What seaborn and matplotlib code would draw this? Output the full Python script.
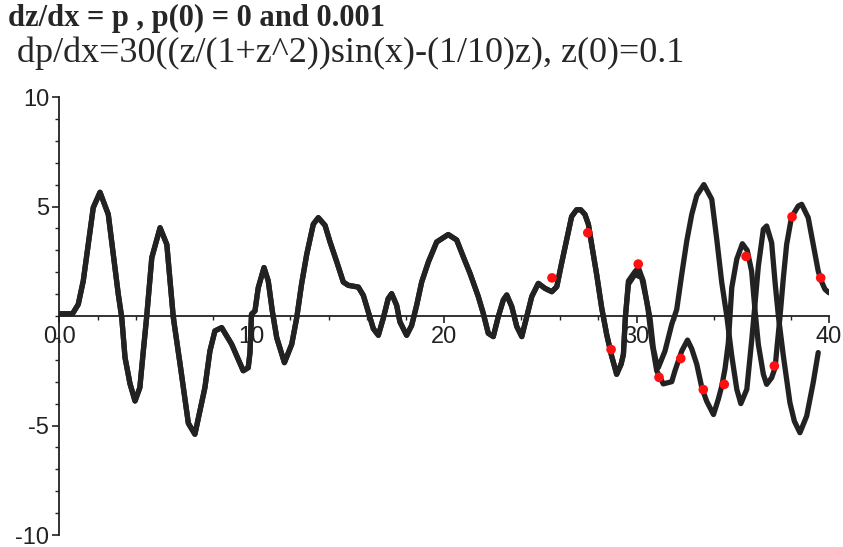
import numpy as np
import pandas as pd
import matplotlib
matplotlib.use("Agg")
import matplotlib.pyplot as plt
from matplotlib.ticker import MultipleLocator, FixedLocator
import seaborn as sns

# values
# both solutions run together up to x ~ 29.4
x_common = [0, 0.7, 1.0, 1.26, 1.52, 1.78, 2.13, 2.56, 2.82, 3.08, 3.26, 3.43, 3.69, 3.95,
            4.2, 4.38, 4.55, 4.82, 5.25, 5.6, 5.77, 5.94, 6.29, 6.72, 7.06, 7.58, 7.84, 8.1,
            8.45, 8.97, 9.57, 9.83, 9.92, 10.0, 10.18, 10.35, 10.65, 10.87, 11.08, 11.31,
            11.71, 12.09, 12.35, 12.6, 12.87, 13.21, 13.47, 13.82, 14.08, 14.43, 14.77,
            15.03, 15.55, 15.81, 16.07, 16.33, 16.59, 16.84, 17.1, 17.28, 17.54, 17.71,
            18.06, 18.32, 18.58, 18.84, 19.19, 19.62, 20.22, 20.66, 21.0, 21.35, 21.78,
            22.04, 22.3, 22.56, 22.82, 23.08, 23.26, 23.52, 23.78, 24.04, 24.3, 24.56,
            24.9, 25.25, 25.6, 25.86, 26.11, 26.37, 26.63, 26.89, 27.1, 27.32, 27.5,
            27.67, 27.93, 28.19, 28.45, 28.7, 28.97, 29.2, 29.32, 29.42]
z_common = [0.1, 0.1, 0.53, 1.6, 3.27, 4.95, 5.65, 4.64, 2.8, 0.99, -0.08, -1.9, -3.1, -3.88,
            -3.27, -1.6, -0.08, 2.66, 4.03, 3.27, 1.6, -0.08, -2.2, -4.9, -5.4, -3.27, -1.6,
            -0.68, -0.53, -1.29, -2.5, -2.36, -1.68, 0.08, 0.23, 1.29, 2.21, 1.6, 0.23, -0.99,
            -2.13, -1.29, -0.08, 1.45, 2.82, 4.19, 4.49, 4.14, 3.38, 2.47, 1.55,
            1.4, 1.32, 0.94, 0.18, -0.58, -0.88, -0.12, 0.79, 1.02, 0.49, -0.27,
            -0.88, -0.43, 0.49, 1.55, 2.47, 3.38, 3.72, 3.47, 2.71, 1.95, 0.89,
            0.12, -0.79, -0.94, -0.03, 0.73, 0.96, 0.43, -0.48, -0.94, -0.03, 0.89,
            1.49, 1.26, 1.11, 1.34, 2.41, 3.47, 4.54, 4.85, 4.85, 4.64, 4.19,
            3.27, 1.9, 0.38, -0.84, -1.8, -2.66, -2.2, -1.75, -0.08]

# p(0) = 0
x_tail_a = [29.58, 29.92, 30.27, 30.53, 30.7, 30.87, 31.05, 31.13, 31.48, 31.83, 32.09,
            32.35, 32.61, 32.87, 33.13, 33.5, 33.91, 34.17, 34.43, 34.69, 34.95, 35.21,
            35.42, 35.73, 35.99, 36.1, 36.33, 36.59, 36.76, 37.02, 37.2, 37.37, 37.63,
            37.97, 38.2, 38.49, 38.84, 39.18, 39.44]
z_tail_a = [1.45, 1.9, 1.75, 0.68, -0.08, -1.45, -2.2, -2.36, -1.6, -0.38, 0.3,
            1.9, 3.42, 4.64, 5.5, 6.0, 5.33, 3.5, 1.52, 0.0, -1.83, -3.35,
            -4.0, -3.35, -1.06, 0.0, 2.28, 3.96, 4.11, 3.35, 1.52, 0.0, -1.83,
            -3.96, -4.8, -5.33, -4.57, -3.04, -1.67]

# p(0) = 0.001
x_tail_b = [29.58, 29.9, 30.1, 30.35, 30.6, 30.8, 31.05, 31.39, 31.83, 32.0, 32.35, 32.65,
            32.87, 33.13, 33.4, 33.65, 34.0, 34.25, 34.43, 34.6, 34.77, 34.95, 35.21,
            35.5, 35.75, 35.98, 36.16, 36.33, 36.59, 36.76, 37.02, 37.2, 37.28, 37.45,
            37.63, 37.8, 38.05, 38.4, 38.58, 38.92, 39.18, 39.44, 39.6, 39.79, 40.0]
z_tail_b = [1.6, 2.0, 2.2, 1.6, 0.3, -1.2, -2.5, -3.1, -3.0, -2.5, -1.6, -1.1,
            -1.5, -2.2, -3.3, -3.9, -4.5, -3.8, -3.2, -2.4, -1.22, 1.3, 2.6,
            3.3, 3.0, 2.05, 0.23, -1.3, -2.66, -3.12, -2.82, -2.36, -1.6, -0.08,
            1.75, 3.27, 4.5, 5.02, 5.1, 4.49, 3.27, 2.05, 1.6, 1.22, 1.06]

# red marks
x_dots = [25.61, 27.47, 28.68, 30.09, 31.17, 32.3, 33.47, 34.56, 35.69, 37.16, 38.08, 39.57]
z_dots = [1.74, 3.8, -1.53, 2.37, -2.8, -1.94, -3.36, -3.12, 2.72, -2.28, 4.53, 1.74]

df = pd.concat([
    pd.DataFrame({"x": x_common + x_tail_a, "z": z_common + z_tail_a, "curve": "p0=0"}),
    pd.DataFrame({"x": x_common + x_tail_b, "z": z_common + z_tail_b, "curve": "p0=0.001"}),
])
dots = pd.DataFrame({"x": x_dots, "z": z_dots})

sns.set_style("ticks")
plt.rcParams["font.family"] = ["Liberation Sans", "DejaVu Sans"]

fig = plt.figure(figsize=(8.43, 5.47), dpi=100)
ax = fig.add_axes([59 / 843, 1 - 535 / 547, 770 / 843, 438 / 547])

sns.lineplot(data=df, x="x", y="z", hue="curve", palette=["#222222", "#222222"],
             estimator=None, sort=False, lw=3.8, legend=False, ax=ax)
sns.scatterplot(data=dots, x="x", y="z", color="#ff1010", s=48, edgecolor="none",
                zorder=5, ax=ax)

ax.set_xlim(0, 40)
ax.set_ylim(-10, 10)
ax.set_xlabel("")
ax.set_ylabel("")

# axes through the origin
ax.spines["left"].set_position(("data", 0))
ax.spines["bottom"].set_position(("data", 0))
ax.spines["top"].set_visible(False)
ax.spines["right"].set_visible(False)
for s in ["left", "bottom"]:
    ax.spines[s].set_color("#222222")
    ax.spines[s].set_linewidth(1.3)

ax.xaxis.set_major_locator(FixedLocator([0, 10, 20, 30, 40]))
ax.set_xticklabels(["0.0", "10", "20", "30", "40"])
ax.xaxis.set_minor_locator(MultipleLocator(2))
ax.yaxis.set_major_locator(FixedLocator([-10, -5, 5, 10]))
ax.set_yticklabels(["-10", "-5", "5", "10"])
ax.yaxis.set_minor_locator(MultipleLocator(1))

ax.tick_params(axis="both", which="major", direction="out", length=5, width=1.2,
               color="#222222", labelsize=17, labelcolor="#222222",
               bottom=True, left=True, top=False, right=False)
ax.tick_params(axis="both", which="minor", direction="out", length=3, width=1.0,
               color="#222222", bottom=True, left=True, top=False, right=False)
ax.tick_params(axis="x", pad=2)
ax.tick_params(axis="y", pad=2)

fig.text(8 / 843, 1 - 26 / 547, "dz/dx = p , p(0) = 0 and 0.001",
         family="Liberation Serif", weight="bold", fontsize=22, va="baseline", ha="left")
fig.text(17 / 843, 1 - 62 / 547, "dp/dx=30((z/(1+z^2))sin(x)-(1/10)z), z(0)=0.1",
         family="Liberation Serif", fontsize=26, va="baseline", ha="left")

fig.savefig("out.png", dpi=100)
